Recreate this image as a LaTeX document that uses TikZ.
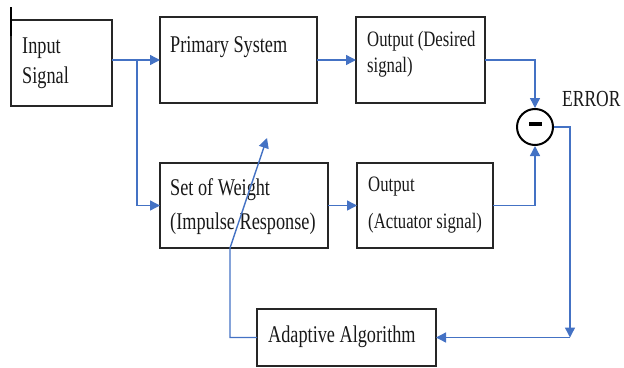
\documentclass[tikz,border=0pt]{standalone}
\usepackage{fontspec}
\usepackage{graphicx}
\setmainfont{Liberation Serif}
\usetikzlibrary{arrows.meta,calc}
\definecolor{lnblue}{HTML}{4472C4}
\newcommand{\sqtxt}[2]{{\fontsize{#1}{#1}\selectfont\scalebox{0.76}[1]{#2}}}
\begin{document}
\begin{tikzpicture}[x=1pt,y=-1pt,
  box/.style={draw=black!85,line width=1.2pt,rectangle,inner sep=0pt,outer sep=0pt},
  lbl/.style={anchor=base west,inner sep=0pt,text=black!90},
  arr/.style={draw=lnblue,line width=1.4pt,-{Triangle[length=10pt,width=10pt]}},
  ln/.style={draw=lnblue,line width=1.4pt}]
\useasboundingbox (0,0) rectangle (624,367);
% boxes
\node[box,minimum width=101pt,minimum height=86pt] (in) at (61.5,63) {};
\node[box,minimum width=157pt,minimum height=86pt] (prim) at (238.5,60) {};
\node[box,minimum width=129pt,minimum height=86pt] (des) at (420.5,60) {};
\node[box,minimum width=168pt,minimum height=85pt] (wt) at (244,205.5) {};
\node[box,minimum width=136pt,minimum height=85pt] (act) at (425,205.5) {};
\node[box,minimum width=179pt,minimum height=57pt] (ada) at (346.5,337.5) {};
\node[circle,draw=black,line width=2pt,minimum size=36pt,inner sep=0pt] (err) at (535,127) {};
\fill[black] ($(err.center)+(-6.5,-5)$) rectangle ($(err.center)+(6.5,-1)$);
% tick at top left
\draw[black,line width=1.5pt] ([yshift=13pt]in.north west) -- ([yshift=-16pt]in.north west);
% texts
\node[lbl] (t1) at (22,53) {\sqtxt{24}{Input}};
\node[lbl] (t2) at (22,83) {\sqtxt{24}{Signal}};
\node[lbl] (t3) at (170,52) {\sqtxt{24}{Primary System}};
\node[lbl] (t4) at (367,46) {\sqtxt{22}{Output (Desired}};
\node[lbl] (t5) at (367,72) {\sqtxt{22}{signal)}};
\node[lbl] (t6) at (170,195) {\sqtxt{24}{Set of Weight}};
\node[lbl] (t7) at (170,229) {\sqtxt{24}{(Impulse Response)}};
\node[lbl] (t8) at (368,191) {\sqtxt{22}{Output}};
\node[lbl] (t9) at (368,228) {\sqtxt{22}{(Actuator signal)}};
\node[lbl] (t10) at (268,342) {\sqtxt{24}{Adaptive Algorithm}};
\node[lbl] (t11) at (562,106) {\sqtxt{23}{ERROR}};
% connectors
\coordinate (br) at (137,60);
\coordinate (c1) at (570,337.5);
\coordinate (c2) at (230,248);
\coordinate (tip) at (267,138);
\draw[arr] (in.east |- prim.west) -- (prim.west);
\draw[arr] (br) |- (wt.west);
\draw[arr] (prim.east) -- (des.west);
\draw[arr] (wt.east) -- (act.west);
\draw[arr] (des.east) -| (err.north);
\draw[arr] (act.east) -| (err.south);
\draw[arr] (err.east) -| (c1);
\draw[arr] (c1) -- (ada.east);
\draw[arr] (ada.west) -| (c2) -- (tip);
\end{tikzpicture}
\end{document}
